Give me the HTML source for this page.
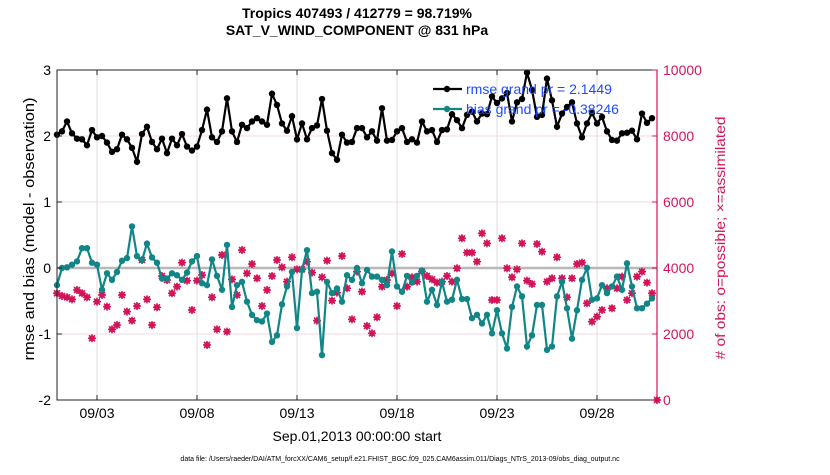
<!DOCTYPE html>
<html><head><meta charset="utf-8"><style>
body{margin:0;background:#fff;}
svg text{font-family:"Liberation Sans",sans-serif;}
</style></head><body>
<svg id="chart" width="830" height="470" xmlns="http://www.w3.org/2000/svg">
<text x="357" y="18" text-anchor="middle" font-size="14" font-weight="bold">Tropics 407493 / 412779 = 98.719%</text>
<text x="357" y="35" text-anchor="middle" font-size="14" font-weight="bold">SAT_V_WIND_COMPONENT @ 831 hPa</text>
<g id="grid"></g><g id="series"></g><g id="axes"></g>
<text transform="translate(34,229) rotate(-90)" text-anchor="middle" font-size="15" textLength="263" lengthAdjust="spacingAndGlyphs">rmse and bias (model - observation)</text>
<text transform="translate(725,238) rotate(-90)" text-anchor="middle" font-size="14" fill="#d4145a" textLength="243" lengthAdjust="spacingAndGlyphs"># of obs: o=possible; ×=assimilated</text>
<text x="357" y="441" text-anchor="middle" font-size="14">Sep.01,2013 00:00:00 start</text>
<text x="400" y="461" text-anchor="middle" font-size="7">data file: /Users/raeder/DAI/ATM_forcXX/CAM6_setup/f.e21.FHIST_BGC.f09_025.CAM6assim.011/Diags_NTrS_2013-09/obs_diag_output.nc</text>
<g id="legend"></g>
</svg>
<script>
const rmse=[2.02,2.07,2.22,2.04,1.96,1.95,1.86,2.09,1.98,2.0,1.90,1.76,1.8,2.02,1.95,1.82,1.61,2.03,2.14,1.91,1.8,1.96,1.74,1.96,1.86,2.03,1.84,1.78,1.84,2.09,2.40,1.98,1.91,2.07,2.57,2.07,1.91,2.17,2.12,2.22,2.27,2.22,2.17,2.64,2.47,2.19,2.08,2.30,1.95,2.19,1.95,2.12,2.16,2.56,2.08,1.74,1.64,2.02,1.9,1.91,2.12,
2.12,1.98,2.07,1.93,2.42,1.93,1.94,2.07,2.12,1.91,1.95,1.90,2.22,2.07,2.09,1.91,2.09,2.10,2.33,2.24,2.12,2.32,2.37,2.22,2.34,2.33,2.60,2.50,2.57,2.65,2.22,2.51,2.56,2.96,2.70,2.29,2.32,2.87,2.54,2.14,2.34,2.44,2.51,2.19,1.98,2.19,2.35,2.19,2.29,2.07,1.94,1.93,2.04,2.05,2.08,1.95,2.34,2.20,2.27];
const bias=[-0.26,0.0,0.01,0.05,0.10,0.30,0.30,0.08,0.05,-0.33,-0.08,-0.18,-0.06,0.11,0.15,0.63,0.18,0.12,0.37,0.16,0.08,-0.16,-0.16,-0.08,-0.11,-0.18,-0.07,0.10,0.18,-0.23,-0.26,0.13,-0.12,-0.33,0.35,-0.59,-0.26,-0.21,-0.51,-0.71,-0.79,-0.81,-0.69,-1.12,-1.02,-0.55,-0.28,-0.06,-0.91,-0.03,0.27,-0.38,-0.36,-1.32,-0.21,-0.38,-0.31,-0.51,-0.11,-0.18,0.0,
-0.23,-0.03,-0.13,-0.13,-0.18,-0.26,0.25,-0.28,-0.36,-0.12,-0.22,-0.12,-0.04,-0.51,-0.33,-0.56,-0.21,-0.51,-0.48,-0.18,-0.47,-0.47,-0.76,-0.71,-0.84,-0.71,-0.99,-0.64,-0.99,-1.22,-0.59,-0.28,-0.43,-1.19,-1.02,-0.56,-0.56,-1.24,-1.19,-0.43,-0.21,-0.61,-1.07,-0.64,-0.18,0.0,-0.48,-0.46,-0.26,-0.38,-0.28,-0.13,-0.33,0.07,-0.28,-0.61,-0.61,-0.54,-0.46];
const nobs=[3233,3152,3112,3051,3334,3233,3112,1870,2980,3182,2829,2142,2273,3182,2678,2405,2849,4243,3051,2273,2809,3758,3637,3233,3435,4162,3617,2728,3617,3789,1668,3112,2142,4395,2072,3657,3182,4546,3839,4122,3688,2849,3334,3758,4243,4021,3587,4324,3960,3960,4192,3859,2405,3718,4223,3011,3253,4364,3385,2445,3890,
3283,2243,2021,2506,3435,3637,3839,2849,4425,3435,3718,3587,3890,3758,3657,3556,3587,3758,3587,3991,4900,4465,4465,4192,5051,4748,3031,3031,4900,3991,3718,3960,4748,3617,3516,4728,4496,3587,3688,4324,3688,3112,3688,4122,4162,2930,2375,2526,2728,3385,2779,3385,3738,3031,3233,3738,3890,3556,3233,0];
const leftTicks=[-2,-1,0,1,2,3];
const rightTicks=[0,2000,4000,6000,8000,10000];
const dateTicks=[2,7,12,17,22,27];
const dateLabels=["09/03","09/08","09/13","09/18","09/23","09/28"];
const legendLabels=["rmse grand pr = 2.1449","bias grand pr = -0.38246"];

const X0=57,X1=657,Y0=400,Y1=70;
const xs=t=>X0+(t/30)*(X1-X0);
const yl=v=>Y0-(v+2)/5*(Y0-Y1);
const yr=v=>Y0-v/10000*(Y0-Y1);
const NS="http://www.w3.org/2000/svg";
function mk(tag,attrs,parent){const e=document.createElementNS(NS,tag);for(const k in attrs)e.setAttribute(k,attrs[k]);parent.appendChild(e);return e;}
const grid=document.getElementById('grid'),ser=document.getElementById('series'),ax=document.getElementById('axes'),leg=document.getElementById('legend');
const PINK="#d4145a",TEAL="#128686";
dateTicks.forEach(d=>{const l=mk('line',{x1:xs(d),x2:xs(d),y1:Y1,y2:Y0,stroke:'#dcdcdc','stroke-width':1},grid);

});
leftTicks.forEach(v=>{if(v===-2||v===3)return;const l=mk('line',{x1:X0,x2:X1,y1:yl(v),y2:yl(v),stroke:'#f0d8e0','stroke-width':1},grid);

});
const z=mk('line',{x1:X0,x2:X1,y1:yl(0),y2:yl(0),stroke:'#b8b8b8','stroke-width':2.5},grid);


nobs.forEach((v,i)=>{const t=i===nobs.length-1?30:i*0.25;const cx=xs(t),cy=yr(v);
const g=mk('g',{},ser);


mk('circle',{cx:cx,cy:cy,r:3,fill:PINK},g);
mk('path',{d:`M${cx-4},${cy}H${cx+4}M${cx},${cy-4}V${cy+4}M${cx-3},${cy-3}L${cx+3},${cy+3}M${cx-3},${cy+3}L${cx+3},${cy-3}`,stroke:PINK,'stroke-width':1.5},g);});
function line(data,col,name){const pts=data.map((v,i)=>xs(i*0.25)+','+yl(v)).join(' ');
const p=mk('polyline',{points:pts,fill:'none',stroke:col,'stroke-width':2.2},ser);


data.forEach((v,i)=>{const c=mk('circle',{cx:xs(i*0.25),cy:yl(v),r:3.2,fill:col},ser);

});}
line(bias,TEAL,'bias');
line(rmse,'#000','rmse');
mk('rect',{x:X0,y:Y1,width:X1-X0,height:Y0-Y1,fill:'none',stroke:'#222','stroke-width':1},ax);
mk('line',{x1:X1,x2:X1,y1:Y1,y2:Y0,stroke:PINK,'stroke-width':1.2},ax);
leftTicks.forEach(v=>{mk('line',{x1:X0,x2:X0+5,y1:yl(v),y2:yl(v),stroke:'#222'},ax);
const t=mk('text',{x:X0-6,y:yl(v)+5,'text-anchor':'end','font-size':14},ax);t.textContent=v;

});
rightTicks.forEach(v=>{mk('line',{x1:X1-5,x2:X1,y1:yr(v),y2:yr(v),stroke:PINK},ax);
const t=mk('text',{x:X1+6,y:yr(v)+5,'font-size':14,fill:PINK},ax);t.textContent=v;

});
dateTicks.forEach((d,i)=>{mk('line',{x1:xs(d),x2:xs(d),y1:Y0,y2:Y0-5,stroke:'#222'},ax);mk('line',{x1:xs(d),x2:xs(d),y1:Y1,y2:Y1+5,stroke:'#222'},ax);
const t=mk('text',{x:xs(d),y:418,'text-anchor':'middle','font-size':14},ax);t.textContent=dateLabels[i];

});
[['#000',89],[TEAL,109]].forEach((c,i)=>{mk('line',{x1:433,x2:462,y1:c[1],y2:c[1],stroke:c[0],'stroke-width':2.2},leg);
mk('circle',{cx:447,cy:c[1],r:3.2,fill:c[0]},leg);
const t=mk('text',{x:466,y:c[1]+5,'font-size':14,fill:'#1a4cff'},leg);t.textContent=legendLabels[i];

});
</script>
</body></html>
